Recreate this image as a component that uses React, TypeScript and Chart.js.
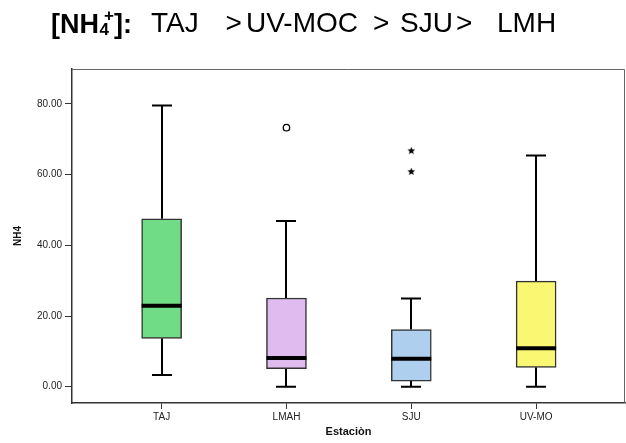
import { useEffect, useRef } from "react";
import { Chart, registerables } from "chart.js";

Chart.register(...registerables);

// Stations on the x axis
const stations = ["TAJ", "LMAH", "SJU", "UV-MO"];

// Box plot summary per station (NH4)
const whiskerLow = [3.3, 0.0, 0.0, 0.0];
const quartile1 = [13.7, 5.1, 1.6, 5.5];
const medians = [22.9, 8.1, 7.9, 10.9];
const quartile3 = [47.5, 25.1, 16.2, 29.9];
const whiskerHigh = [79.6, 46.9, 25.0, 65.4];

// Outliers (circle) and extreme values (star): station index and value
const outlierStation = [1];
const outlierValue = [73.3];
const extremeStation = [2, 2];
const extremeValue = [66.8, 60.9];

const yTickValues = [0, 20, 40, 60, 80];

const boxColors = ["#70dc85", "#dfbbf0", "#aed0ee", "#faf872"];

const FONT = "'Liberation Sans', Arial, Helvetica, sans-serif";

function makeStar(): HTMLCanvasElement {
  const c = document.createElement("canvas");
  c.width = 9;
  c.height = 9;
  const g = c.getContext("2d")!;
  g.fillStyle = "#000";
  g.beginPath();
  for (let k = 0; k < 10; k++) {
    const r = k % 2 === 0 ? 4.0 : 1.8;
    const a = -Math.PI / 2 + (k * Math.PI) / 5;
    const px = 4.5 + r * Math.cos(a);
    const py = 4.8 + r * Math.sin(a);
    if (k === 0) g.moveTo(px, py);
    else g.lineTo(px, py);
  }
  g.closePath();
  g.fill();
  return c;
}

// Whiskers, caps, medians and the frame around the plot area
const boxPlotPlugin = {
  id: "boxPlotParts",
  beforeDatasetsDraw(chart: any) {
    const { ctx, scales } = chart;
    const x = scales.x;
    const y = scales.y;
    const meta = chart.getDatasetMeta(0);
    ctx.save();
    ctx.strokeStyle = "#000";
    ctx.lineWidth = 2;
    stations.forEach((_, i) => {
      const cx = Math.round(x.getPixelForValue(i));
      const bar = meta.data[i];
      const capHalf = bar ? bar.width / 4 : 10;
      const yHi = y.getPixelForValue(whiskerHigh[i]);
      const yQ3 = y.getPixelForValue(quartile3[i]);
      const yQ1 = y.getPixelForValue(quartile1[i]);
      const yLo = y.getPixelForValue(whiskerLow[i]);
      ctx.beginPath();
      ctx.moveTo(cx, yHi);
      ctx.lineTo(cx, yQ3);
      ctx.moveTo(cx, yQ1);
      ctx.lineTo(cx, yLo);
      ctx.moveTo(cx - capHalf, yHi);
      ctx.lineTo(cx + capHalf, yHi);
      ctx.moveTo(cx - capHalf, yLo);
      ctx.lineTo(cx + capHalf, yLo);
      ctx.stroke();
    });
    ctx.restore();
  },
  afterDatasetsDraw(chart: any) {
    const { ctx, scales, chartArea } = chart;
    const y = scales.y;
    const meta = chart.getDatasetMeta(0);
    ctx.save();
    ctx.strokeStyle = "#000";
    ctx.lineWidth = 4;
    stations.forEach((_, i) => {
      const bar = meta.data[i];
      const ym = y.getPixelForValue(medians[i]);
      ctx.beginPath();
      ctx.moveTo(bar.x - bar.width / 2, ym);
      ctx.lineTo(bar.x + bar.width / 2, ym);
      ctx.stroke();
    });
    ctx.strokeStyle = "#666";
    ctx.lineWidth = 1;
    ctx.beginPath();
    ctx.moveTo(chartArea.left, chartArea.top + 0.5);
    ctx.lineTo(chartArea.right - 0.5, chartArea.top + 0.5);
    ctx.lineTo(chartArea.right - 0.5, chartArea.bottom);
    ctx.stroke();
    ctx.restore();
  },
};

// Heading pieces: text, left edge, top edge, size, weight
type Piece = { t: string; x: number; y: number; size: number; bold?: boolean };
const heading: Piece[] = [
  { t: "[NH", x: 51, y: 7.6, size: 27, bold: true },
  { t: "4", x: 99.5, y: 13.8, size: 17, bold: true },
  { t: "+", x: 104, y: 0, size: 17, bold: true },
  { t: "]:", x: 114, y: 7.6, size: 27, bold: true },
  { t: "TAJ", x: 151, y: 7.3, size: 28 },
  { t: ">", x: 225.5, y: 7.3, size: 28 },
  { t: "UV-MOC", x: 246, y: 7.3, size: 28 },
  { t: ">", x: 373, y: 7.3, size: 28 },
  { t: "SJU", x: 400, y: 7.3, size: 28 },
  { t: ">", x: 456, y: 7.3, size: 28 },
  { t: "LMH", x: 497, y: 7.3, size: 28 },
];

export default function App() {
  const canvasRef = useRef<HTMLCanvasElement | null>(null);

  useEffect(() => {
    const canvas = canvasRef.current;
    if (!canvas) return;
    const star = makeStar();
    const chart = new Chart(canvas, {
      type: "bar",
      data: {
        datasets: [
          {
            type: "bar",
            data: stations.map((_, i) => ({ x: i, y: [quartile1[i], quartile3[i]] })) as any,
            backgroundColor: boxColors,
            borderColor: "#333",
            borderWidth: 1.5,
            borderSkipped: false,
            barThickness: 40,
            order: 2,
          } as any,
          {
            type: "scatter",
            data: outlierStation.map((s, i) => ({ x: s, y: outlierValue[i] })),
            pointStyle: "circle",
            radius: 3.2,
            backgroundColor: "#fff",
            borderColor: "#000",
            borderWidth: 1.3,
            order: 1,
          } as any,
          {
            type: "scatter",
            data: extremeStation.map((s, i) => ({ x: s, y: extremeValue[i] })),
            pointStyle: star,
            radius: 4,
            order: 1,
          } as any,
        ],
      },
      options: {
        responsive: false,
        animation: false,
        events: [],
        layout: { autoPadding: false, padding: { top: 69, right: 1, left: 0, bottom: 0 } },
        plugins: {
          legend: { display: false },
          tooltip: { enabled: false },
        },
        scales: {
          x: {
            type: "linear",
            min: -0.718,
            max: 3.712,
            offset: false,
            afterBuildTicks: (s: any) => {
              s.ticks = stations.map((_, i) => ({ value: i }));
            },
            afterFit: (s: any) => {
              s.height = 40;
            },
            ticks: {
              callback: (v: any) => stations[v as number],
              font: { family: FONT, size: 10 },
              color: "#222",
              padding: 2,
              maxRotation: 0,
              autoSkip: false,
            },
            grid: {
              offset: false,
              drawOnChartArea: false,
              drawTicks: true,
              tickLength: 6,
              color: "#333",
              lineWidth: 1,
            },
            border: { display: true, color: "#333", width: 1.5 },
            title: {
              display: true,
              text: "Estaciòn",
              font: { family: FONT, size: 11, weight: "bold" },
              color: "#111",
              padding: { top: 0, bottom: 4 },
            },
          },
          y: {
            type: "linear",
            min: -4.6,
            max: 89.9,
            afterBuildTicks: (s: any) => {
              s.ticks = yTickValues.map((v) => ({ value: v }));
            },
            afterFit: (s: any) => {
              s.width = 72;
            },
            ticks: {
              callback: (v: any) => Number(v).toFixed(2),
              font: { family: FONT, size: 10 },
              color: "#222",
              padding: 3,
            },
            grid: {
              drawOnChartArea: false,
              drawTicks: true,
              tickLength: 7,
              color: "#333",
              lineWidth: 1,
            },
            border: { display: true, color: "#333", width: 1.5 },
            title: {
              display: true,
              text: "NH4",
              font: { family: FONT, size: 10, weight: "bold" },
              color: "#111",
              padding: { top: 12, bottom: 0 },
            },
          },
        },
      },
      plugins: [boxPlotPlugin],
    });
    return () => chart.destroy();
  }, []);

  return (
    <div
      style={{
        position: "absolute",
        left: 0,
        top: 0,
        width: 626,
        height: 443,
        background: "#fff",
        overflow: "hidden",
      }}
    >
      {heading.map((p, i) => (
        <span
          key={i}
          style={{
            position: "absolute",
            left: p.x,
            top: p.y,
            fontFamily: FONT,
            fontSize: p.size,
            fontWeight: p.bold ? "bold" : "normal",
            lineHeight: "32px",
            whiteSpace: "pre",
            color: "#000",
          }}
        >
          {p.t}
        </span>
      ))}
      <canvas ref={canvasRef} width={626} height={443} style={{ display: "block" }} />
    </div>
  );
}
